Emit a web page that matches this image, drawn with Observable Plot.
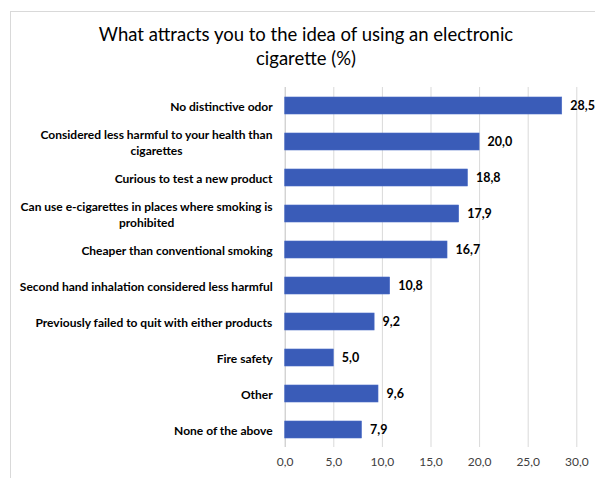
<!DOCTYPE html>
<html>
<head>
<meta charset="utf-8">
<script src="https://cdn.jsdelivr.net/npm/d3@7"></script>
<script src="https://cdn.jsdelivr.net/npm/@observablehq/plot@0.6"></script>
<style>
  html, body { margin: 0; padding: 0; background: #fff; overflow: hidden; }
  body { width: 595px; height: 478px; position: relative; font-family: Lato, "Open Sans", sans-serif; }
  #frame { position: absolute; left: 10px; top: 11px; width: 620px; height: 500px; border: 1px solid #d9d9d9; box-sizing: border-box; }
  #title { position: absolute; left: 10px; width: 592px; top: 22px; text-align: center; font-size: 18.5px; line-height: 24px; color: #000; }
  #chart { position: absolute; left: 0; top: 78px; }
</style>
</head>
<body>
<div id="frame"></div>
<div id="title">What attracts you to the idea of using an electronic<br>cigarette (%)</div>
<div id="chart"></div>
<script>
const categories = [
  "No distinctive odor",
  "Considered less harmful to your health than cigarettes",
  "Curious to test a new product",
  "Can use e-cigarettes in places where smoking is prohibited",
  "Cheaper than conventional smoking",
  "Second hand inhalation considered less harmful",
  "Previously failed to quit with either products",
  "Fire safety",
  "Other",
  "None of the above"
];
const labels = [
  "No distinctive odor",
  "Considered less harmful to your health than\ncigarettes",
  "Curious to test a new product",
  "Can use e-cigarettes in places where smoking is\nprohibited",
  "Cheaper than conventional smoking",
  "Second hand inhalation considered less harmful",
  "Previously failed to quit with either products",
  "Fire safety",
  "Other",
  "None of the above"
];
const values = [28.5, 20.0, 18.8, 17.9, 16.7, 10.8, 9.2, 5.0, 9.6, 7.9];
const xTicks = [0, 5, 10, 15, 20, 25, 30];

const W = 595, H = 400, ML = 284.7, MR = 18.7;
const pxPerUnit = (W - ML - MR) / 30;
const labelFont = "bold 12px Lato";
const ctx = document.createElement("canvas").getContext("2d");
ctx.font = labelFont;

const data = categories.map((c, i) => {
  const lines = labels[i].split("\n");
  const bw = Math.max(...lines.map(l => ctx.measureText(l).width));
  return {category: c, label: labels[i], value: values[i], labelX: -(12.5 + bw / 2) / pxPerUnit};
});
const fmt = v => v.toFixed(1).replace(".", ",");

const chart = Plot.plot({
  width: W,
  height: H,
  marginLeft: ML,
  marginRight: MR,
  marginTop: 9,
  marginBottom: 31,
  style: {fontFamily: "Lato, sans-serif", background: "transparent", overflow: "visible"},
  x: {domain: [0, 30], ticks: xTicks, tickFormat: fmt, label: null},
  y: {domain: categories, paddingInner: 0.53, paddingOuter: 0.265, label: null},
  marks: [
    Plot.ruleX(xTicks.filter(d => d > 0), {stroke: "#d9d9d9", strokeWidth: 1}),
    Plot.ruleX([0], {stroke: "#bfbfbf", strokeWidth: 1}),
    Plot.barX(data, {y: "category", x: "value", fill: "#3A5CB8", stroke: "#4a6cc6", strokeWidth: 0.6}),
    Plot.text(data, {y: "category", x: "value", text: d => fmt(d.value), textAnchor: "start", dx: 8, fontWeight: "bold", fontSize: 12.5, fill: "#000"}),
    Plot.text(data, {y: "category", x: "labelX", text: "label", textAnchor: "middle", fontWeight: "bold", fontSize: 12, lineHeight: 16 / 12, fill: "#000"}),
    Plot.axisX({ticks: xTicks, tickFormat: fmt, tickSize: 0, tickPadding: 10, fontSize: 12, fill: "#404040", label: null}),
    Plot.axisY({ticks: [], label: null})
  ]
});
document.getElementById("chart").appendChild(chart);
</script>
</body>
</html>
